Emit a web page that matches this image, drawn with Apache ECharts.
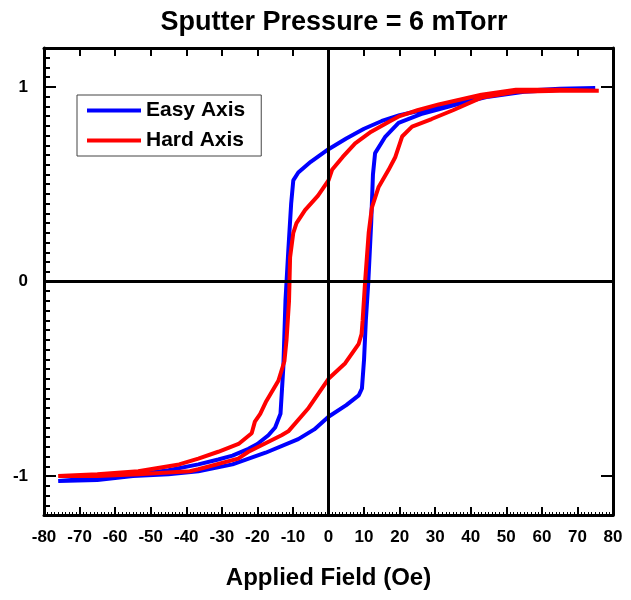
<!DOCTYPE html>
<html>
<head>
<meta charset="utf-8">
<script src="https://cdn.jsdelivr.net/npm/echarts@6/dist/echarts.min.js"></script>
<style>
  html, body { margin: 0; padding: 0; background: #fff; }
  #chart { width: 631px; height: 600px; }
</style>
</head>
<body>
<div id="chart"></div>
<script>
// Applied field (Oe) and normalized magnetization
const easyDescending = [
  [75, 0.995], [65, 0.99], [55, 0.98], [45, 0.96], [38, 0.935], [31, 0.9], [25, 0.875],
  [20, 0.855], [15, 0.825], [10, 0.785], [5, 0.735], [0, 0.68], [-5, 0.615], [-8.5, 0.56],
  [-9.9, 0.52], [-10.5, 0.4], [-11.3, 0.16], [-12.1, -0.1], [-12.7, -0.44], [-13.5, -0.68],
  [-15, -0.75], [-16.9, -0.79], [-20, -0.835], [-22.5, -0.86], [-27, -0.895], [-31, -0.915],
  [-36.6, -0.94], [-45, -0.97], [-53.5, -0.99], [-65, -1.01], [-76, -1.025]
];
const easyAscending = [
  [-76, -1.03], [-65, -1.02], [-55, -1.0], [-45, -0.99], [-36.6, -0.975], [-27, -0.94],
  [-17.7, -0.88], [-8.5, -0.81], [-4, -0.76], [0, -0.695], [5, -0.635], [8.5, -0.585],
  [9.4, -0.55], [10, -0.4], [10.5, -0.2], [11.2, 0.0], [12, 0.3], [12.5, 0.55], [13.1, 0.66],
  [16, 0.745], [19.7, 0.815], [26, 0.86], [31, 0.885], [38, 0.92], [45, 0.95], [55, 0.975],
  [65, 0.985], [74, 0.99]
];
const hardDescending = [
  [76, 0.98], [65, 0.985], [52.7, 0.985], [43, 0.96], [31, 0.91], [25, 0.88], [20, 0.85],
  [16.9, 0.82], [12, 0.77], [7.5, 0.71], [4, 0.64], [1, 0.574], [0, 0.52], [-3, 0.44],
  [-6.6, 0.367], [-9, 0.3], [-9.9, 0.25], [-10.8, 0.125], [-11.1, -0.1], [-11.8, -0.3],
  [-12.4, -0.41], [-14.1, -0.51], [-17.5, -0.615], [-19.2, -0.68], [-20.7, -0.72],
  [-21.6, -0.78], [-25.3, -0.835], [-31, -0.875], [-36.6, -0.91], [-42, -0.94],
  [-53.5, -0.975], [-65, -0.99], [-76, -1.0]
];
const hardAscending = [
  [-76, -1.005], [-65, -1.0], [-53.5, -0.99], [-39, -0.975], [-36.6, -0.965], [-25.4, -0.91],
  [-22.5, -0.875], [-13.2, -0.79], [-11.3, -0.77], [-5.6, -0.65], [0, -0.5], [4.7, -0.42],
  [8.5, -0.32], [9.3, -0.27], [9.6, -0.2], [10.3, 0.0], [11.3, 0.25], [12.2, 0.38],
  [14.1, 0.486], [16.9, 0.574], [18.8, 0.64], [20.7, 0.745], [23.5, 0.796], [29, 0.835],
  [35, 0.88], [43, 0.945], [52.7, 0.975], [65, 0.98], [76, 0.98]
];
const seriesNames = ['Easy Axis', 'Hard Axis'];
const yTickValues = [-1, 0, 1];

const FONT = '"Liberation Sans", Arial, sans-serif';
const chart = echarts.init(document.getElementById('chart'), null, { renderer: 'canvas' });

const frameLine = { show: true, onZero: false, lineStyle: { color: '#000', width: 3 } };

chart.setOption({
  animation: false,
  backgroundColor: '#fff',
  title: {
    text: 'Sputter Pressure = 6 mTorr',
    left: 329,
    textAlign: 'center',
    top: 4,
    textStyle: { fontFamily: FONT, fontWeight: 'bold', fontSize: 27, color: '#000' }
  },
  legend: {
    data: seriesNames,
    orient: 'vertical',
    left: 77,
    top: 95,
    padding: [5, 16, 5, 10],
    itemGap: 9,
    itemWidth: 54,
    itemHeight: 4,
    icon: 'rect',
    borderColor: '#444',
    borderWidth: 1,
    textStyle: { fontFamily: FONT, fontWeight: 'bold', fontSize: 21, color: '#000' }
  },
  grid: { left: 44, right: 18, top: 48, bottom: 85, containLabel: false },
  xAxis: [
    {
      type: 'value', position: 'bottom', min: -80, max: 80, interval: 10,
      axisLine: frameLine,
      axisTick: { show: true, inside: true, length: 8, lineStyle: { color: '#000', width: 2 } },
      minorTick: { show: true, splitNumber: 10, length: 3, lineStyle: { color: '#000', width: 1 } },
      axisLabel: { margin: 14, fontFamily: FONT, fontWeight: 'bold', fontSize: 17, color: '#000' },
      splitLine: { show: false },
      name: 'Applied Field (Oe)',
      nameLocation: 'middle',
      nameGap: 51,
      nameTextStyle: { fontFamily: FONT, fontWeight: 'bold', fontSize: 24, color: '#000' }
    },
    {
      type: 'value', position: 'top', min: -80, max: 80, interval: 10,
      axisLine: frameLine,
      axisTick: { show: true, inside: true, length: 8, lineStyle: { color: '#000', width: 2 } },
      axisLabel: { show: false },
      splitLine: { show: false }
    }
  ],
  yAxis: [
    {
      type: 'value', position: 'left', min: -1.2, max: 1.2,
      axisLine: frameLine,
      axisTick: { show: true, inside: true, length: 12, customValues: yTickValues,
                  lineStyle: { color: '#000', width: 2 } },
      axisLabel: { show: true, customValues: yTickValues, margin: 16,
                   fontFamily: FONT, fontWeight: 'bold', fontSize: 17, color: '#000' },
      splitLine: { show: false }
    },
    {
      type: 'value', position: 'left', min: -1.2, max: 1.2, interval: 0.05,
      axisLine: { show: false, onZero: false },
      axisTick: { show: true, inside: true, length: 6, lineStyle: { color: '#000', width: 2 } },
      axisLabel: { show: false },
      splitLine: { show: false }
    },
    {
      type: 'value', position: 'right', min: -1.2, max: 1.2,
      axisLine: frameLine,
      axisTick: { show: true, inside: true, length: 12, customValues: yTickValues,
                  lineStyle: { color: '#000', width: 2 } },
      axisLabel: { show: false },
      splitLine: { show: false }
    }
  ],
  series: [
    {
      name: 'zero',
      type: 'line',
      data: [[0, 0]],
      showSymbol: false,
      lineStyle: { width: 0 },
      silent: true,
      z: 1,
      markLine: {
        silent: true,
        symbol: 'none',
        label: { show: false },
        lineStyle: { color: '#000', width: 3, type: 'solid' },
        data: [{ xAxis: 0 }, { yAxis: 0 }]
      }
    },
    {
      name: seriesNames[0],
      type: 'line',
      data: easyDescending.concat(easyAscending),
      showSymbol: false,
      smooth: false,
      color: '#0000ff',
      lineStyle: { color: '#0000ff', width: 4 },
      z: 3
    },
    {
      name: seriesNames[1],
      type: 'line',
      data: hardDescending.concat(hardAscending),
      showSymbol: false,
      smooth: false,
      color: '#ff0000',
      lineStyle: { color: '#ff0000', width: 4 },
      z: 4
    }
  ]
});
</script>
</body>
</html>
